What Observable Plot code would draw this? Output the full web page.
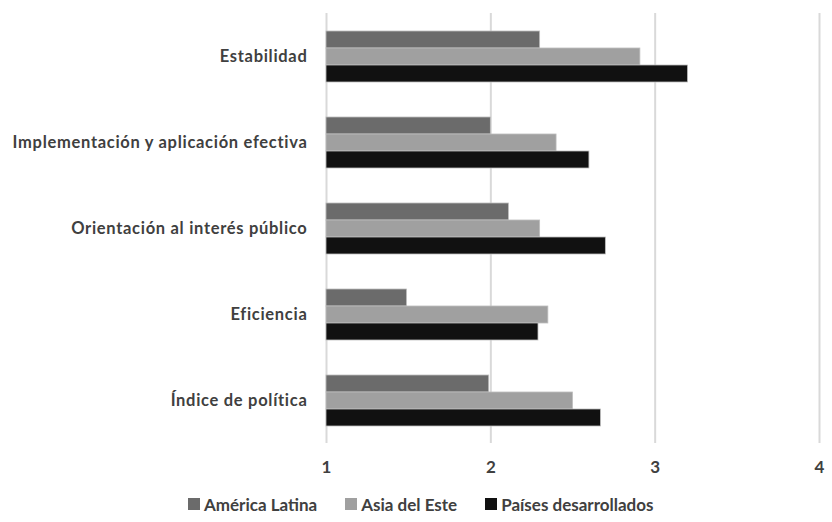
<!DOCTYPE html>
<html>
<head>
<meta charset="utf-8">
<script src="https://cdn.jsdelivr.net/npm/d3@7"></script>
<script src="https://cdn.jsdelivr.net/npm/@observablehq/plot@0.6"></script>
<style>
  html, body { margin: 0; padding: 0; background: #fff; }
  body { width: 832px; height: 522px; overflow: hidden; font-family: Lato, "Open Sans", sans-serif; }
  #legend { display: flex; justify-content: flex-start; align-items: center; height: 28px; margin-top: 8px; padding-left: 188px; font-weight: bold; font-size: 17px; color: #404040; }
  .item { display: flex; align-items: center; margin-right: 28px; }
  .sw { width: 12px; height: 12px; margin-right: 4px; }
  g[aria-label="fy-axis tick label"] text { letter-spacing: 0.7px; }
</style>
</head>
<body>
<div id="chart"></div>
<div id="legend"></div>
<script>
const categories = [
  "Estabilidad",
  "Implementación y aplicación efectiva",
  "Orientación al interés público",
  "Eficiencia",
  "Índice de política"
];
const series = ["América Latina", "Asia del Este", "Países desarrollados"];
const colors = ["#6b6b6b", "#a0a0a0", "#111111"];
const americaLatina = [2.30, 2.00, 2.11, 1.49, 1.99];
const asiaDelEste = [2.91, 2.40, 2.30, 2.35, 2.50];
const paisesDesarrollados = [3.20, 2.60, 2.70, 2.29, 2.67];
const xTicks = [1, 2, 3, 4];

const valuesBySeries = [americaLatina, asiaDelEste, paisesDesarrollados];
const data = [];
categories.forEach((c, i) => {
  series.forEach((s, j) => data.push({category: c, series: s, value: valuesBySeries[j][i]}));
});

const chart = Plot.plot({
  width: 832,
  height: 482,
  marginTop: 12,
  marginBottom: 38,
  marginLeft: 326,
  marginRight: 13,
  style: {fontFamily: "Lato, 'Open Sans', sans-serif", fontSize: "16px", fontWeight: "bold", color: "#404040"},
  x: {domain: [1, 4]},
  fy: {domain: categories, padding: 0},
  y: {domain: series, paddingInner: 0, paddingOuter: 0.95},
  color: {domain: series, range: colors},
  marks: [
    Plot.ruleX(xTicks, {stroke: "#d9d9d9", strokeWidth: 2}),
    Plot.barX(data, {fy: "category", y: "series", x1: 1, x2: "value", fill: "series", stroke: "#bdbdbd", strokeWidth: 0.8}),
    Plot.axisX({ticks: xTicks, tickFormat: d => String(d), tickSize: 0, tickPadding: 17, fontSize: 17, fontWeight: "bold", fill: "#404040", label: null}),
    Plot.axisFy({anchor: "left", tickSize: 0, tickPadding: 19, fontSize: 16.5, fontWeight: "bold", fill: "#404040", label: null}),
    Plot.axisY({ticks: [], label: null, tickSize: 0})
  ]
});
document.getElementById("chart").appendChild(chart);

const legend = document.getElementById("legend");
series.forEach((s, i) => {
  const item = document.createElement("div");
  item.className = "item";
  const sw = document.createElement("span");
  sw.className = "sw";
  sw.style.background = colors[i];
  const t = document.createElement("span");
  t.textContent = s;
  item.appendChild(sw);
  item.appendChild(t);
  legend.appendChild(item);
});
</script>
</body>
</html>
